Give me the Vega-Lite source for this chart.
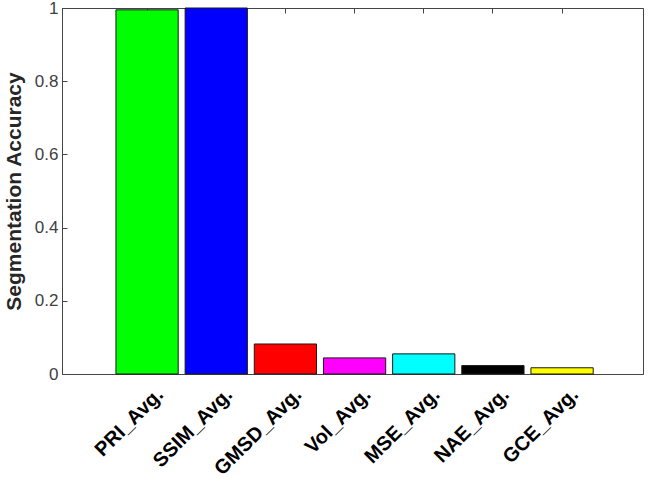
{
  "$schema": "https://vega.github.io/schema/vega-lite/v6.json",
  "autosize": {"type": "none"},
  "width": 581,
  "height": 366,
  "padding": {"left": 62, "top": 8, "right": 5, "bottom": 104},
  "background": "white",
  "config": {
    "view": {"stroke": "#444444", "strokeWidth": 1},
    "axis": {
      "domainColor": "#444444",
      "tickColor": "#444444",
      "grid": false,
      "labelFont": "Liberation Sans",
      "titleFont": "Liberation Sans"
    }
  },
  "data": {
    "values": [
      {"metric": "PRI_Avg.", "value": 0.995, "color": "#00ff00"},
      {"metric": "SSIM_Avg.", "value": 1.0, "color": "#0000ff"},
      {"metric": "GMSD_Avg.", "value": 0.082, "color": "#ff0000"},
      {"metric": "Vol_Avg.", "value": 0.044, "color": "#ff00ff"},
      {"metric": "MSE_Avg.", "value": 0.055, "color": "#00ffff"},
      {"metric": "NAE_Avg.", "value": 0.023, "color": "#000000"},
      {"metric": "GCE_Avg.", "value": 0.017, "color": "#ffff00"}
    ]
  },
  "layer": [
    {
      "mark": {"type": "bar", "stroke": "#1a1a1a", "strokeWidth": 1},
      "encoding": {
        "x": {
          "field": "metric",
          "type": "nominal",
          "sort": null,
          "scale": {"paddingInner": 0.1, "paddingOuter": 0.75, "align": 0.52},
          "axis": {
            "title": null,
            "labelAngle": -45,
            "labelFontSize": 20,
            "labelFontWeight": "bold",
            "labelColor": "#000000",
            "tickSize": -5,
            "labelPadding": 15,
            "labelOffset": 6
          }
        },
        "y": {
          "field": "value",
          "type": "quantitative",
          "scale": {"domain": [0, 1], "nice": false},
          "axis": {
            "title": "Segmentation Accuracy",
            "titleFontSize": 21,
            "titleFontWeight": "bold",
            "titleColor": "#262626",
            "values": [0, 0.2, 0.4, 0.6, 0.8, 1],
            "format": "~g",
            "labelFontSize": 17,
            "labelColor": "#404040",
            "tickSize": -5,
            "labelPadding": 9,
            "titlePadding": 10
          }
        },
        "color": {"field": "color", "type": "nominal", "scale": null}
      }
    },
    {
      "mark": {"type": "bar", "opacity": 0},
      "encoding": {
        "x": {
          "field": "metric",
          "type": "nominal",
          "sort": null,
          "axis": {"orient": "top", "labels": false, "title": null, "tickSize": -5}
        },
        "y": {"field": "value", "type": "quantitative"}
      }
    }
  ],
  "resolve": {"axis": {"x": "independent"}}
}
